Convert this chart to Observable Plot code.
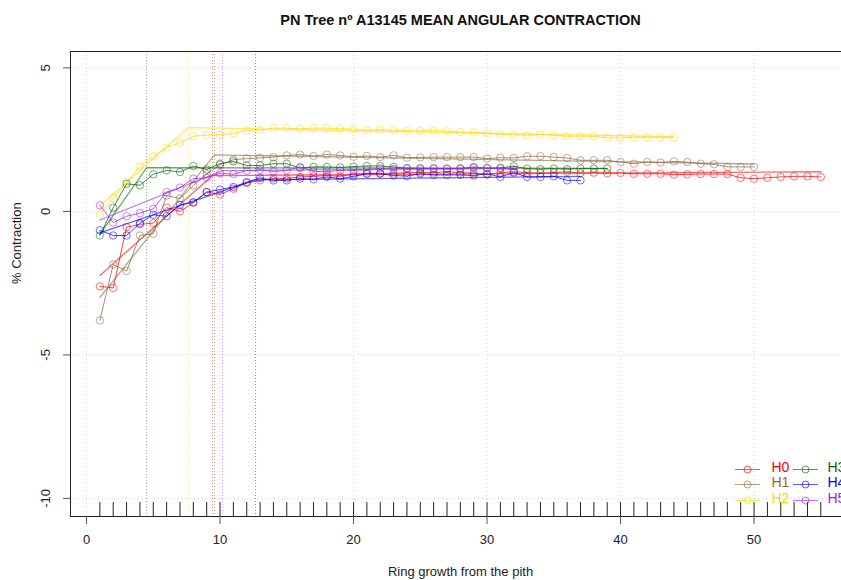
<!DOCTYPE html>
<html><head><meta charset="utf-8">
<script src="https://cdn.jsdelivr.net/npm/d3@7"></script>
<script src="https://cdn.jsdelivr.net/npm/@observablehq/plot@0.6"></script>
<style>body{margin:0;background:#fff;} svg{display:block;}</style>
</head><body><div id="chart"></div>
<script>
const title = "PN Tree nº A13145 MEAN ANGULAR CONTRACTION";
const xLabel = "Ring growth from the pith";
const yLabel = "% Contraction";
const seriesNames = ["H0","H1","H2","H3","H4","H5"];
const seriesColors = ["#FF0000","#8B6A3E","#FFD700","#006400","#0000FF","#A020F0"];
const xTicks = [0,10,20,30,40,50];
const yTicks = [-10,-5,0,5];

const H0 = [-2.61,-2.67,-0.55,-0.45,-0.41,0.13,0.0,0.30,0.67,0.59,0.79,0.99,1.08,1.15,1.15,1.2,1.22,1.25,1.22,1.3,1.32,1.33,1.32,1.35,1.35,1.35,1.38,1.35,1.33,1.28,1.35,1.38,1.35,1.33,1.35,1.38,1.33,1.35,1.33,1.34,1.31,1.31,1.31,1.28,1.29,1.30,1.30,1.30,1.17,1.14,1.17,1.2,1.22,1.22,1.2];
const H1 = [-3.8,-1.85,-2.08,-0.84,-0.78,0.55,0.45,0.9,1.3,1.62,1.8,1.84,1.86,1.89,1.95,1.98,1.93,1.98,1.95,1.9,1.93,1.89,1.95,1.87,1.88,1.89,1.89,1.89,1.89,1.84,1.87,1.86,1.92,1.92,1.89,1.86,1.78,1.78,1.78,1.72,1.66,1.72,1.70,1.74,1.72,1.66,1.64,1.55,1.55,1.55];
const H2 = [-0.1,0.46,1.02,1.57,1.92,2.22,2.39,2.62,2.66,2.67,2.71,2.82,2.83,2.9,2.9,2.88,2.9,2.9,2.88,2.87,2.82,2.85,2.83,2.81,2.81,2.82,2.79,2.76,2.75,2.72,2.68,2.67,2.65,2.68,2.65,2.62,2.62,2.61,2.57,2.56,2.58,2.58,2.58,2.58];
const H3 = [-0.84,0.13,0.96,0.91,1.29,1.43,1.37,1.58,1.46,1.66,1.74,1.6,1.6,1.66,1.66,1.51,1.55,1.55,1.53,1.56,1.58,1.58,1.55,1.5,1.48,1.5,1.48,1.5,1.52,1.5,1.52,1.57,1.49,1.47,1.49,1.47,1.49,1.49,1.49];
const H4 = [-0.66,-0.84,-0.84,-0.41,-0.12,-0.17,0.22,0.32,0.67,0.76,0.85,1.02,1.16,1.08,1.08,1.14,1.12,1.2,1.14,1.22,1.31,1.31,1.25,1.23,1.31,1.27,1.27,1.27,1.25,1.31,1.2,1.35,1.2,1.2,1.22,1.08,1.08];
const H5 = [0.21,-0.39,-0.17,-0.06,0.09,0.67,0.83,1.14,1.17,1.33,1.3,1.42,1.45,1.39,1.43,1.55,1.39,1.38,1.43,1.43,1.45,1.5,1.48,1.51,1.51,1.49,1.49,1.49,1.55,1.51,1.49,1.46];
const seriesValues = [H0,H1,H2,H3,H4,H5];

// segmented fits: value at ring 1, breakpoint ring, value at breakpoint, value at last ring
const breakpoints = [9.44, 9.59, 7.64, 4.5, 12.66, 10.19];
const fitStart = [-2.23, -3.0, 0.2, -0.8, -0.75, -0.3];
const fitBreak = [1.25, 1.97, 2.92, 1.52, 1.1, 1.42];
const fitEnd = [1.38, 1.65, 2.6, 1.5, 1.22, 1.5];

const xDomain = [-1.2, 56.55];
const yDomain = [-10.63, 5.57];

const font = "'Liberation Sans', Arial, Helvetica, sans-serif";

const points = [];
seriesValues.forEach((vals, s) => vals.forEach((v, i) => points.push({series: seriesNames[s], ring: i + 1, value: v})));
const fits = [];
seriesNames.forEach((name, s) => {
  const n = seriesValues[s].length;
  fits.push({series: name, ring: 1, value: fitStart[s]});
  fits.push({series: name, ring: breakpoints[s], value: fitBreak[s]});
  fits.push({series: name, ring: n, value: fitEnd[s]});
});
const rugValues = Array.from(new Set(points.map(d => d.ring))).sort((a, b) => a - b);
const rugTop = yDomain[0] + 0.03 * (yDomain[1] - yDomain[0]);

const legendSymbol = {
  draw(ctx) {
    ctx.moveTo(-12.5, 0); ctx.lineTo(12.5, 0);
    ctx.moveTo(3.5, 0); ctx.arc(0, 0, 3.5, 0, 2 * Math.PI);
  }
};

const marks = [
  Plot.gridX({ticks: xTicks, stroke: "#d0d0d0", strokeOpacity: 1, strokeDasharray: "1,3"}),
  Plot.gridY({ticks: yTicks, stroke: "#d0d0d0", strokeOpacity: 1, strokeDasharray: "1,3"}),
];

seriesNames.forEach((name, s) => {
  const c = seriesColors[s];
  const pts = points.filter(d => d.series === name);
  marks.push(Plot.ruleX([breakpoints[s]], {stroke: c, strokeDasharray: "1,2", strokeWidth: 1, strokeOpacity: 0.5}));
  marks.push(Plot.line(pts, {x: "ring", y: "value", stroke: c, strokeWidth: 1, strokeOpacity: 0.75}));
  marks.push(Plot.dot(pts, {x: "ring", y: "value", r: 3.7, stroke: c, fill: "none", strokeWidth: 1, strokeOpacity: 0.55}));
  marks.push(Plot.line(fits.filter(d => d.series === name), {x: "ring", y: "value", stroke: c, strokeWidth: 1.3, strokeOpacity: 0.6}));
});

marks.push(
  Plot.ruleX(rugValues, {x: d => d, y1: yDomain[0], y2: rugTop, stroke: "#222", strokeWidth: 1}),
  Plot.frame({stroke: "#222"}),
  Plot.axisX({ticks: xTicks, tickSize: 8, tickPadding: 10, stroke: "#555", fontSize: 13, fill: "#222", label: null}),
  Plot.axisY({ticks: yTicks, tickSize: 7, stroke: "#555", tickFormat: () => "", label: null}),
  Plot.text(yTicks, {y: d => d, text: d => String(d), frameAnchor: "left", dx: -25, rotate: -90, textAnchor: "middle", lineAnchor: "middle", fontSize: 13, fill: "#222"}),
  Plot.text([title], {frameAnchor: "top", dx: 4.5, dy: -37, fontSize: 14.5, fontWeight: "bold", fill: "#111"}),
  Plot.text([xLabel], {frameAnchor: "bottom", dx: 4.5, dy: 59, fontSize: 13, fill: "#222"}),
  Plot.text([yLabel], {frameAnchor: "left", dx: -54, rotate: -90, fontSize: 13, fill: "#222"})
);

// legend: two columns of three
const legendRowsDy = [-45, -30, -14];
seriesNames.forEach((name, s) => {
  const col = Math.floor(s / 3), row = s % 3;
  const symDx = col === 0 ? -94 : -36;
  const txtDx = col === 0 ? -70 : -14;
  marks.push(Plot.dot([0], {frameAnchor: "bottom-right", dx: symDx, dy: legendRowsDy[row] - 2, symbol: legendSymbol, stroke: seriesColors[s], fill: "none", strokeOpacity: 0.65, strokeWidth: 1}));
  marks.push(Plot.text([name], {frameAnchor: "bottom-right", dx: txtDx, dy: legendRowsDy[row], textAnchor: "start", fontSize: 14, fill: seriesColors[s]}));
});

const chart = Plot.plot({
  width: 841, height: 580,
  marginLeft: 70, marginRight: 0, marginTop: 51, marginBottom: 64,
  x: {domain: xDomain},
  y: {domain: yDomain},
  style: {fontFamily: font, background: "#fff", overflow: "visible"},
  marks
});
document.getElementById("chart").appendChild(chart);
</script>
</body></html>
